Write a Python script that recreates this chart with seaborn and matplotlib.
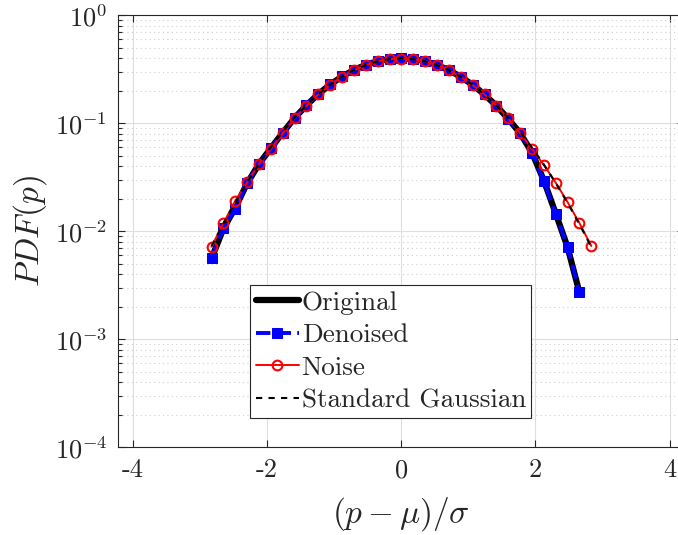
import numpy as np
import matplotlib
matplotlib.use('Agg')
import matplotlib.pyplot as plt
import seaborn as sns
import pandas as pd

# bin centres of (p - mu)/sigma
x_bins = [-2.830, -2.653, -2.476, -2.299, -2.122, -1.945, -1.768, -1.591, -1.414,
          -1.237, -1.060, -0.883, -0.706, -0.529, -0.352, -0.175, 0.002, 0.179,
          0.356, 0.533, 0.710, 0.887, 1.064, 1.241, 1.418, 1.595, 1.772, 1.949,
          2.126, 2.303, 2.480, 2.657, 2.834]

# PDF values
pdf_original = [0.0056, 0.0106, 0.0165, 0.0278, 0.0420, 0.0588, 0.0818, 0.1118,
                0.1468, 0.1865, 0.2285, 0.2712, 0.3120, 0.3480, 0.3760, 0.3940,
                0.3995, 0.3935, 0.3755, 0.3468, 0.3105, 0.2698, 0.2268, 0.1848,
                0.1452, 0.1100, 0.0810, 0.0535, 0.0295, 0.0146, 0.0071, 0.0027]
pdf_denoised = [0.0057, 0.0108, 0.0160, 0.0281, 0.0423, 0.0590, 0.0815, 0.1120,
                0.1470, 0.1870, 0.2290, 0.2720, 0.3130, 0.3490, 0.3770, 0.3950,
                0.4000, 0.3940, 0.3760, 0.3470, 0.3110, 0.2700, 0.2270, 0.1850,
                0.1450, 0.1096, 0.0813, 0.0528, 0.0292, 0.0144, 0.0072, 0.00272]
pdf_noise = [0.0072, 0.0119, 0.0191, 0.0284, 0.0420, 0.0578, 0.0808, 0.1110,
             0.1450, 0.1850, 0.2280, 0.2700, 0.3100, 0.3460, 0.3750, 0.3930,
             0.3980, 0.3920, 0.3740, 0.3460, 0.3110, 0.2690, 0.2260, 0.1850,
             0.1460, 0.1110, 0.0808, 0.0578, 0.0411, 0.0282, 0.0186, 0.0119, 0.0073]
pdf_gauss = [0.00727, 0.0118, 0.0186, 0.0284, 0.0420, 0.0602, 0.0835, 0.1125,
             0.1468, 0.1856, 0.2274, 0.2701, 0.3108, 0.3468, 0.3749, 0.3929,
             0.3989, 0.3925, 0.3743, 0.3461, 0.3100, 0.2692, 0.2265, 0.1847,
             0.1460, 0.1118, 0.0829, 0.0596, 0.0415, 0.0280, 0.0183, 0.0116, 0.00715]

x_ticks = [-4, -2, 0, 2, 4]
x_tick_labels = ['-4', '-2', '0', '2', '4']
y_ticks = [1e-4, 1e-3, 1e-2, 1e-1, 1e0]
y_tick_labels = ['$10^{-4}$', '$10^{-3}$', '$10^{-2}$', '$10^{-1}$', '$10^{0}$']

sns.set_style('ticks')
plt.rcParams['font.family'] = 'serif'
plt.rcParams['font.serif'] = ['cmr10']
plt.rcParams['mathtext.fontset'] = 'cm'
plt.rcParams['axes.unicode_minus'] = False

fig = plt.figure(figsize=(6.78, 5.35), dpi=100)
ax = fig.add_axes([118.3 / 678, (535 - 447.3) / 535, 566 / 678, 432 / 535])

n = len(pdf_denoised)
sns.lineplot(x=x_bins[:n], y=pdf_original, ax=ax, color='black', lw=4.5,
             label='Original', errorbar=None)
sns.lineplot(x=x_bins[:n], y=pdf_denoised, ax=ax, color='blue', lw=2.8,
             linestyle='--', marker='s', markersize=6.5, markeredgecolor='blue',
             label='Denoised', errorbar=None)
sns.lineplot(x=x_bins, y=pdf_noise, ax=ax, color='red', lw=1.4,
             marker='o', markersize=7, markerfacecolor='none',
             markeredgecolor='red', markeredgewidth=1.5,
             label='Noise', errorbar=None)
sns.lineplot(x=x_bins, y=pdf_gauss, ax=ax, color='black', lw=1.5,
             linestyle=(0, (3, 3)), label='Standard Gaussian', errorbar=None)

ax.set_yscale('log')
ax.set_xlim(-4.22, 4.22)
ax.set_ylim(1e-4, 1)
ax.set_xticks(x_ticks, x_tick_labels)
ax.set_yticks(y_ticks, y_tick_labels)
ax.yaxis.set_minor_locator(matplotlib.ticker.LogLocator(base=10, subs=np.arange(2, 10)))
ax.yaxis.set_minor_formatter(matplotlib.ticker.NullFormatter())

ax.tick_params(which='both', direction='in', top=True, right=True,
               color='#262626', width=0.8, labelsize=19, pad=8)
ax.tick_params(which='major', length=5)
ax.tick_params(which='minor', length=3)

ax.grid(True, which='major', color='#dedede', lw=0.8)
ax.yaxis.grid(True, which='minor', color='#cfcfcf', lw=0.8, linestyle=(0, (1, 3)))
ax.set_axisbelow(True)
for s in ax.spines.values():
    s.set_color('#262626')
    s.set_linewidth(0.8)

ax.set_xlabel(r'$(p-\mu)/\sigma$', fontsize=24, labelpad=9)
ax.set_ylabel(r'$PDF(p)$', fontsize=24, labelpad=4)

leg = ax.legend(loc='lower left', bbox_to_anchor=(0.233, 0.068), fontsize=19.5,
                fancybox=False, edgecolor='#262626', framealpha=1,
                borderpad=0.2, handlelength=1.6, handletextpad=0.1,
                labelspacing=0.32, borderaxespad=0)
leg.get_frame().set_linewidth(0.8)

fig.savefig('out.png', dpi=100)
